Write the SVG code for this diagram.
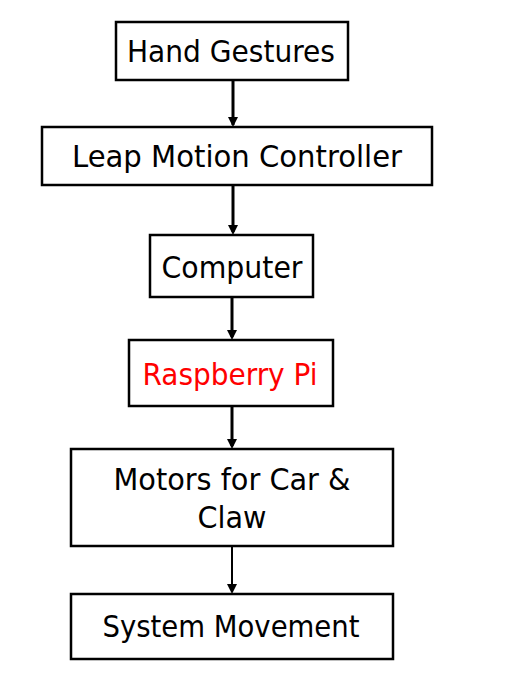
<svg xmlns="http://www.w3.org/2000/svg" width="528" height="687" viewBox="0 0 528 687">
<style>
.box{fill:#fff;stroke:#000;stroke-width:2.5}
.t{font-family:"DejaVu Sans Condensed","DejaVu Sans",sans-serif;font-size:31px;text-anchor:middle;fill:#000}
.red{fill:#ff0000}
.c{stroke:#000;stroke-width:3;fill:none}
.ah{fill:#000}
</style>
<g id="connectors">
<line class="c" x1="233" y1="80" x2="233" y2="125"/>
<path class="ah" d="M228,117 L238,117 L233,127 Z"/>
<line class="c" x1="233" y1="185" x2="233" y2="232"/>
<path class="ah" d="M228,225 L238,225 L233,235 Z"/>
<line class="c" x1="232" y1="297" x2="232" y2="337"/>
<path class="ah" d="M227,330 L237,330 L232,340 Z"/>
<line class="c" x1="232" y1="406" x2="232" y2="446"/>
<path class="ah" d="M227,439 L237,439 L232,449 Z"/>
<line class="c" x1="232" y1="546" x2="232" y2="590" style="stroke-width:2"/>
<path class="ah" d="M227,584 L237,584 L232,594 Z"/>
</g>
<g id="hand-gestures">
<rect class="box" x="116" y="22" width="232" height="58"/>
<text class="t" x="231" y="62" textLength="208" lengthAdjust="spacingAndGlyphs">Hand Gestures</text>
</g>
<g id="leap-motion">
<rect class="box" x="42" y="127" width="390" height="58"/>
<text class="t" x="237" y="167" textLength="330" lengthAdjust="spacingAndGlyphs">Leap Motion Controller</text>
</g>
<g id="computer">
<rect class="box" x="150" y="235" width="163" height="62"/>
<text class="t" x="232" y="278" textLength="141" lengthAdjust="spacingAndGlyphs">Computer</text>
</g>
<g id="raspberry-pi">
<rect class="box" x="129" y="340" width="204" height="66"/>
<text class="t red" x="230" y="385" textLength="175" lengthAdjust="spacingAndGlyphs">Raspberry Pi</text>
</g>
<g id="motors">
<rect class="box" x="71" y="449" width="322" height="97"/>
<text class="t" x="232" y="490" textLength="237" lengthAdjust="spacingAndGlyphs">Motors for Car &amp;</text>
<text class="t" x="232" y="528" textLength="69" lengthAdjust="spacingAndGlyphs">Claw</text>
</g>
<g id="system-movement">
<rect class="box" x="71" y="594" width="322" height="65"/>
<text class="t" x="231" y="637" textLength="257" lengthAdjust="spacingAndGlyphs">System Movement</text>
</g>
</svg>
